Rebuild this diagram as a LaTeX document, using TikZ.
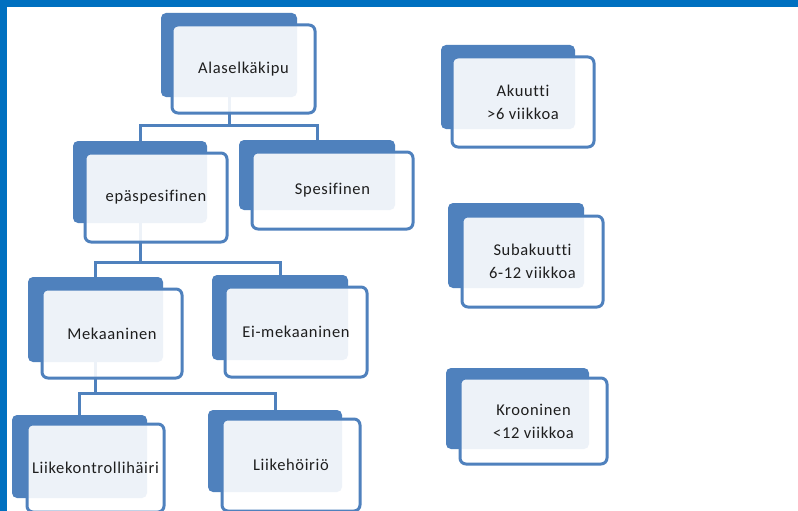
\documentclass[tikz,border=0pt]{standalone}
\usepackage{fontspec}
\setmainfont{Carlito}[Ligatures={NoCommon}, LetterSpace=4]
\definecolor{frameblue}{RGB}{0,112,192}
\definecolor{boxblue}{RGB}{79,129,189}
\definecolor{txt}{RGB}{30,30,30}
\tikzset{
  backbox/.style={fill=boxblue, draw=none, rounded corners=5pt, inner sep=0pt},
  frontbox/.style={fill=white, fill opacity=0.9, text opacity=1, draw=boxblue, draw opacity=1, line width=3pt, rounded corners=6pt, inner sep=0pt, align=center, font=\fontsize{16.5}{23}\selectfont, text=txt},
  conn/.style={draw=boxblue, line width=3pt},
}
\newcommand{\bk}[5]{\node[backbox, minimum width={#4-#2}, minimum height={#5-#3}] (#1) at ({(#2+#4)/2},{(#3+#5)/2}) {};}
\newcommand{\fr}[6]{\node[frontbox, minimum width={#4-#2}, minimum height={#5-#3}] (#1) at ({(#2+#4)/2},{(#3+#5)/2}) {#6};}
\begin{document}
\begin{tikzpicture}[x=1pt,y=-1pt]
\useasboundingbox (0,0) rectangle (798,511);
\fill[white] (0,0) rectangle (798,511);
% back boxes
\bk{Ab}{161}{13}{297}{97}
\bk{Eb}{73}{141}{207}{223}
\bk{Sb}{239}{140}{395}{210}
\bk{Mb}{28}{277}{163}{362}
\bk{Nb}{212}{275}{348}{360}
\bk{Lb}{12}{415}{147}{498}
\bk{Hb}{208}{410}{342}{492}
\bk{K1b}{441}{45}{575}{129}
\bk{K2b}{448}{203}{584}{288}
\bk{K3b}{446}{368}{589}{449}
% bar coordinates
\coordinate (barA) at (0,125);
\coordinate (barE) at (0,262);
\coordinate (barM) at (0,393);
% connectors
\draw[conn] (Ab.south) -- (Ab.south |- barA);
\draw[conn] (Eb.north) -- (Eb.north |- barA) -- (Sb.north |- barA) -- (Sb.north);
\draw[conn] (Eb.south) -- (Eb.south |- barE);
\draw[conn] (Mb.north) -- (Mb.north |- barE) -- (Nb.north |- barE) -- (Nb.north);
\draw[conn] (Mb.south) -- (Mb.south |- barM);
\draw[conn] (Lb.north) -- (Lb.north |- barM) -- (Hb.north |- barM) -- (Hb.north);
% front boxes
\fr{A}{172}{25}{315}{113}{Alaselkäkipu}
\fr{E}{85}{153}{227}{242}{epäspesifinen}
\fr{S}{252}{152}{413}{229}{Spesifinen}
\fr{M}{42}{289}{182}{378}{Mekaaninen}
\fr{N}{225}{287}{367}{377}{Ei-mekaaninen}
\fr{L}{27}{424}{164}{512}{Liikekontrollihäiri}
\fr{H}{222}{419}{360}{511}{Liikehöiriö}
\fr{K1}{452}{57}{594}{147}{Akuutti\\>6 viikkoa}
\fr{K2}{462}{216}{603}{307}{Subakuutti\\6-12 viikkoa}
\fr{K3}{460}{378}{607}{464}{Krooninen\\<12 viikkoa}
% frame
\fill[frameblue] (0,0) rectangle (798,7);
\fill[frameblue] (0,0) rectangle (7,511);
\end{tikzpicture}
\end{document}
